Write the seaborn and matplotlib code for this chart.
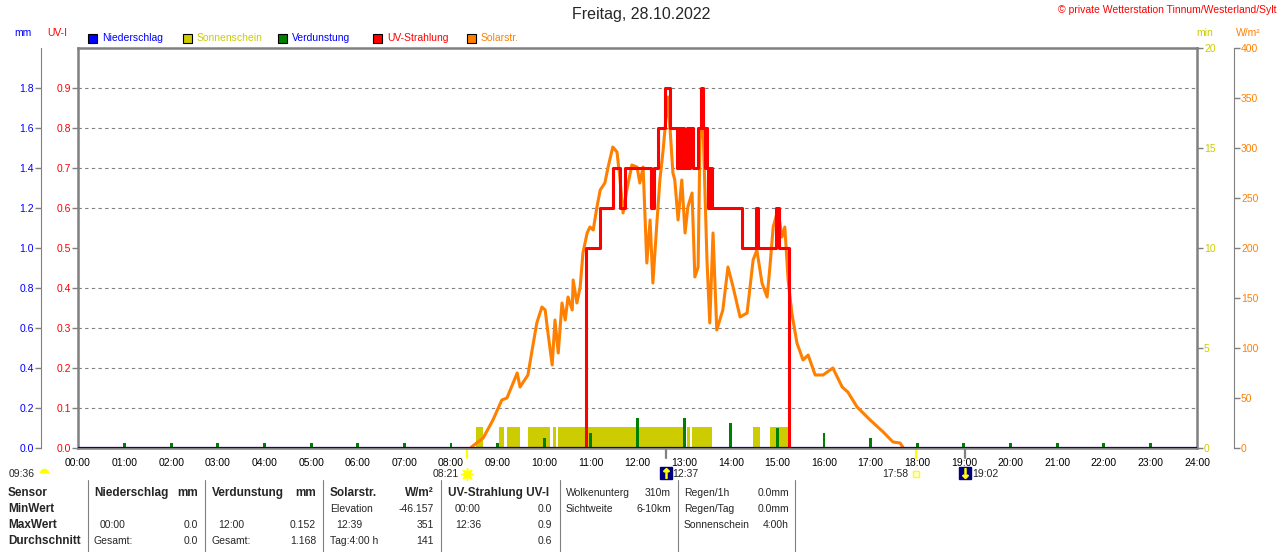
import numpy as np
import pandas as pd
import matplotlib
matplotlib.use("Agg")
import matplotlib.pyplot as plt
import matplotlib.transforms as mtrans
from matplotlib.patches import Rectangle
from matplotlib.lines import Line2D
from matplotlib.ticker import MultipleLocator
import seaborn as sns

# ---- data (hours as decimal) ----
hours = list(range(25))
hour_labels = [f"{h:02d}:00" for h in hours]

# UV radiation (step line)
uv_h = [0, 10.89, 11.20, 11.47, 11.62, 11.73, 12.30, 12.35, 12.44, 12.59, 12.70, 12.85, 12.88,
        12.92, 12.95, 12.99, 13.06, 13.10, 13.13, 13.19, 13.30, 13.36, 13.40, 13.45, 13.47,
        13.49, 13.52, 13.53, 13.56, 13.57, 13.60, 14.24, 14.54, 14.58, 14.97, 15.03, 15.25, 24.0]
uv_val = [0, 0.5, 0.6, 0.7, 0.6, 0.7, 0.6, 0.7, 0.8, 0.9, 0.8, 0.7, 0.8,
          0.7, 0.8, 0.7, 0.8, 0.7, 0.8, 0.7, 0.8, 0.9, 0.8, 0.7, 0.8,
          0.7, 0.6, 0.7, 0.6, 0.7, 0.6, 0.5, 0.6, 0.5, 0.6, 0.5, 0.0, 0.0]

# solar radiation W/m2
solar_h = [8.44, 8.69, 8.90, 9.09, 9.20, 9.42, 9.48, 9.65, 9.74, 9.84, 9.95, 10.02, 10.08, 10.17,
           10.23, 10.30, 10.38, 10.45, 10.51, 10.60, 10.62, 10.70, 10.77, 10.83, 10.92, 10.98,
           11.05, 11.13, 11.20, 11.30, 11.37, 11.47, 11.56, 11.62, 11.69, 11.77, 11.88, 11.99,
           12.05, 12.12, 12.20, 12.27, 12.33, 12.42, 12.48, 12.55, 12.65, 12.70, 12.76, 12.80,
           12.87, 12.95, 13.02, 13.08, 13.17, 13.23, 13.30, 13.34, 13.40, 13.49, 13.55, 13.62,
           13.70, 13.83, 13.94, 14.05, 14.20, 14.35, 14.48, 14.56, 14.67, 14.78, 14.84, 14.91,
           15.01, 15.10, 15.16, 15.23, 15.31, 15.42, 15.55, 15.66, 15.81, 15.98, 16.19, 16.39,
           16.51, 16.71, 16.99, 17.27, 17.48, 17.63, 17.69]
solar_w = [1, 10, 28, 48, 50, 75, 61, 73, 98, 125, 141, 138, 115, 83,
           128, 95, 145, 128, 151, 138, 168, 145, 161, 195, 215, 221,
           218, 241, 258, 265, 281, 301, 296, 271, 235, 258, 283, 281,
           265, 281, 185, 228, 165, 228, 268, 298, 351, 318, 275, 268,
           228, 268, 215, 241, 255, 171, 181, 308, 331, 188, 125, 215,
           118, 138, 181, 161, 131, 135, 188, 198, 165, 151, 181, 221,
           238, 211, 221, 168, 135, 105, 88, 93, 73, 73, 80, 61,
           56, 41, 28, 16, 6, 5, 1]

# sunshine minutes (spans)
sun_start = [8.54, 9.03, 9.20, 9.65, 10.19, 10.30, 13.06, 13.17, 14.48, 14.84]
sun_end = [8.69, 9.14, 9.48, 10.12, 10.25, 13.02, 13.13, 13.60, 14.63, 15.25]
sun_min = 1.05

# evaporation mm per hour
evap_h = list(range(1, 24))
evap_mm = [0.025, 0.025, 0.025, 0.025, 0.025, 0.025, 0.025, 0.025, 0.025, 0.05, 0.075, 0.152,
           0.15, 0.125, 0.1, 0.075, 0.05, 0.025, 0.025, 0.025, 0.025, 0.025, 0.025]

# precipitation
rain_h = [0, 24]
rain_mm = [0.0, 0.0]

uv_ticks = [0.0, 0.1, 0.2, 0.3, 0.4, 0.5, 0.6, 0.7, 0.8, 0.9]
mm_ticks = [0.0, 0.2, 0.4, 0.6, 0.8, 1.0, 1.2, 1.4, 1.6, 1.8]
min_ticks = [0, 5, 10, 15, 20]
sol_ticks = [0, 50, 100, 150, 200, 250, 300, 350, 400]

# sun / moon events
sunrise, sunset = 8.35, 17.967
moonrise, moonset = 12.617, 19.033

# ---- style ----
sns.set_style("white")
plt.rcParams['font.family'] = ['Liberation Sans', 'DejaVu Sans']
plt.rcParams['axes.axisbelow'] = True

BLUE = '#0000ff'
RED = '#ff0000'
OLIVE = '#cccc00'
GREEN = '#008000'
ORANGE = '#ff8000'
GRAY = '#808080'
FS = 7.5

W, H = 1280, 552
fig = plt.figure(figsize=(12.8, 5.52), dpi=100, facecolor='white')


def fx(x):
    return x / W


def fy(y):
    return 1 - y / H


def ftext(x, y, s, **kw):
    kw.setdefault('fontsize', FS)
    kw.setdefault('va', 'center')
    fig.text(fx(x), fy(y), s, **kw)


ax = fig.add_axes([fx(78), fy(448), (1197 - 78) / W, 400 / H])
ax_min = ax.twinx()
ax_sol = ax.twinx()
ax_mm = ax.twinx()

ax.patch.set_visible(False)
ax_min.set_zorder(1)
ax_sol.set_zorder(2)
ax.set_zorder(3)
ax_mm.set_zorder(4)

# sunshine bars + grid on the bottom-most axes
ax_min.bar(sun_start, [sun_min] * len(sun_start),
           width=np.array(sun_end) - np.array(sun_start), align='edge',
           color=OLIVE, linewidth=0)
ax_min.set_ylim(0, 20)
ax_min.set_yticks(min_ticks)
ax_min.yaxis.set_minor_locator(MultipleLocator(2))
ax_min.tick_params(axis='y', which='minor', length=0)
ax_min.tick_params(axis='y', which='major', length=4, width=1, color=GRAY,
                   labelcolor=OLIVE, labelsize=FS, pad=1)
ax_min.grid(True, which='minor', axis='y', color=GRAY, linestyle=(0, (3, 3)), linewidth=0.8)
ax_min.grid(True, which='major', axis='x', color=GRAY, linestyle=(0, (3, 3)), linewidth=0.8)

# solar radiation
sns.lineplot(x=solar_h, y=solar_w, ax=ax_sol, color=ORANGE, linewidth=2.2)
ax_sol.set_ylim(0, 400)
ax_sol.set_yticks(sol_ticks)
ax_sol.spines['right'].set_position(('axes', 1 + 37 / 1119))
ax_sol.tick_params(axis='y', length=4, width=1, color=GRAY, labelcolor=ORANGE,
                   labelsize=FS, pad=1)

# UV radiation
sns.lineplot(x=uv_h, y=uv_val, ax=ax, color=RED, linewidth=2.2, drawstyle='steps-post')
ax.set_xlim(0, 24)
ax.set_xticks(hours)
ax.set_xticklabels(hour_labels)
ax.set_ylim(0, 1.0)
ax.set_yticks(uv_ticks)
ax.set_yticklabels([f"{v:.1f}" for v in uv_ticks])
ax.tick_params(axis='x', length=0, pad=7.5, labelsize=FS, labelcolor='black')
ax.tick_params(axis='y', left=True, length=4, width=1, color=GRAY, labelcolor=RED,
               labelsize=FS, pad=1)
ax.set_xlabel("")
ax.set_ylabel("")

# evaporation and precipitation
ax_mm.bar(evap_h, evap_mm, width=0.06, color=GREEN, linewidth=0)
sns.lineplot(x=rain_h, y=rain_mm, ax=ax_mm, color='#0000c0', linewidth=1.6)
ax_mm.set_ylim(0, 2.0)
ax_mm.set_yticks(mm_ticks)
ax_mm.set_yticklabels([f"{v:.1f}" for v in mm_ticks])
ax_mm.yaxis.tick_left()
ax_mm.spines['left'].set_position(('axes', -37 / 1119))
ax_mm.tick_params(axis='y', length=4, width=1, color=GRAY, labelcolor=BLUE,
                  labelsize=FS, pad=1)

for a in (ax_min, ax_sol, ax_mm):
    a.set_xlim(0, 24)
    a.set_ylabel("")
    a.set_xlabel("")
    for s in a.spines.values():
        s.set_visible(False)
    a.patch.set_visible(False)
ax_sol.spines['right'].set_visible(True)
ax_sol.spines['right'].set_color(GRAY)
ax_sol.spines['right'].set_linewidth(0.8)
ax_mm.spines['left'].set_visible(True)
ax_mm.spines['left'].set_color(GRAY)
ax_mm.spines['left'].set_linewidth(0.8)
for s in ax.spines.values():
    s.set_visible(True)
    s.set_color(GRAY)
    s.set_linewidth(1.8)

# sun / moon markers below the time axis
tr = mtrans.blended_transform_factory(ax.transData, ax.transAxes)
ppx = 24 / 1119  # hours per pixel
for t, c in [(sunrise, '#ffff00'), (sunset, '#ffff00'), (moonrise, GRAY), (moonset, GRAY)]:
    ax.plot([t, t], [0, -0.025], transform=tr, clip_on=False, color=c, lw=1.6)
ax.plot([sunrise], [-0.065], transform=tr, clip_on=False, marker='o', ms=5, color='#ffff00')
ax.plot([sunrise], [-0.065], transform=tr, clip_on=False, marker=(8, 2, 0), ms=9,
        color='#ffff00', mew=1)
ax.plot([sunset], [-0.065], transform=tr, clip_on=False, marker='s', ms=4,
        mfc='#ffffe0', mec='#ffff00', mew=1)
for t, arrow in [(moonrise, r'$\uparrow$'), (moonset, r'$\downarrow$')]:
    ax.plot([t], [-0.063], transform=tr, clip_on=False, marker='s', ms=8, color='#000080')
    ax.plot([t], [-0.063], transform=tr, clip_on=False, marker=arrow, ms=7, color='#ffff00')
ax.text(sunrise - 8 * ppx, -0.065, "08:21", transform=tr, ha='right', va='center', fontsize=FS)
ax.text(sunset - 7 * ppx, -0.065, "17:58", transform=tr, ha='right', va='center', fontsize=FS)
ax.text(moonrise + 6 * ppx, -0.065, "12:37", transform=tr, ha='left', va='center', fontsize=FS)
ax.text(moonset + 7 * ppx, -0.065, "19:02", transform=tr, ha='left', va='center', fontsize=FS)
ax.plot([-34 * ppx], [-0.062], transform=tr, clip_on=False, marker='o', ms=7,
        fillstyle='top', color='#ffff00', mfcalt='none', mec='none')
ftext(9, 474, "09:36")

# title, copyright, unit labels, legend
ftext(641, 15, "Freitag, 28.10.2022", fontsize=11.5, ha='center')
ftext(1276, 10, "© private Wetterstation Tinnum/Westerland/Sylt", color=RED, ha='right')
ftext(23, 33, "mm", color=BLUE, ha='center')
ftext(57, 33, "UV-I", color=RED, ha='center')
ftext(1205, 33, "min", color=OLIVE, ha='center')
ftext(1248, 33, "W/m²", color=ORANGE, ha='center')

legend_items = [("Niederschlag", BLUE, BLUE, 88), ("Sonnenschein", OLIVE, OLIVE, 183),
                ("Verdunstung", GREEN, BLUE, 278), ("UV-Strahlung", RED, RED, 373),
                ("Solarstr.", ORANGE, ORANGE, 467)]
for name, sq, tc, x0 in legend_items:
    fig.add_artist(Rectangle((fx(x0), fy(43)), 9 / W, 9 / H, transform=fig.transFigure,
                             facecolor=sq, edgecolor='black', linewidth=0.8))
    ftext(x0 + 14, 38, name, color=tc)

# table below the chart
table = [
    (8, 493, "Sensor", 'bold', 'left'), (8, 509, "MinWert", 'bold', 'left'),
    (8, 525, "MaxWert", 'bold', 'left'), (8, 541, "Durchschnitt", 'bold', 'left'),
    (94, 493, "Niederschlag", 'bold', 'left'), (198, 493, "mm", 'bold', 'right'),
    (100, 525, "00:00", 'normal', 'left'), (198, 525, "0.0", 'normal', 'right'),
    (94, 541, "Gesamt:", 'normal', 'left'), (198, 541, "0.0", 'normal', 'right'),
    (212, 493, "Verdunstung", 'bold', 'left'), (316, 493, "mm", 'bold', 'right'),
    (218, 525, "12:00", 'normal', 'left'), (316, 525, "0.152", 'normal', 'right'),
    (212, 541, "Gesamt:", 'normal', 'left'), (316, 541, "1.168", 'normal', 'right'),
    (330, 493, "Solarstr.", 'bold', 'left'), (434, 493, "W/m²", 'bold', 'right'),
    (330, 509, "Elevation", 'normal', 'left'), (434, 509, "-46.157", 'normal', 'right'),
    (336, 525, "12:39", 'normal', 'left'), (434, 525, "351", 'normal', 'right'),
    (330, 541, "Tag:4:00 h", 'normal', 'left'), (434, 541, "141", 'normal', 'right'),
    (448, 493, "UV-Strahlung UV-I", 'bold', 'left'),
    (455, 509, "00:00", 'normal', 'left'), (552, 509, "0.0", 'normal', 'right'),
    (455, 525, "12:36", 'normal', 'left'), (552, 525, "0.9", 'normal', 'right'),
    (552, 541, "0.6", 'normal', 'right'),
    (566, 493, "Wolkenunterg", 'normal', 'left'), (671, 493, "310m", 'normal', 'right'),
    (566, 509, "Sichtweite", 'normal', 'left'), (671, 509, "6-10km", 'normal', 'right'),
    (684, 493, "Regen/1h", 'normal', 'left'), (789, 493, "0.0mm", 'normal', 'right'),
    (684, 509, "Regen/Tag", 'normal', 'left'), (789, 509, "0.0mm", 'normal', 'right'),
    (684, 525, "Sonnenschein", 'normal', 'left'), (789, 525, "4:00h", 'normal', 'right'),
]
for x, y, s, wgt, ha in table:
    ftext(x, y, s, fontweight=wgt, ha=ha, fontsize=8.5 if wgt == 'bold' else FS)

for xs in [88, 205, 323, 441, 560, 678, 795]:
    fig.add_artist(Line2D([fx(xs), fx(xs)], [fy(480), fy(552)], color=GRAY, lw=0.8,
                          transform=fig.transFigure))

fig.savefig("out.png", dpi=100, facecolor='white')
